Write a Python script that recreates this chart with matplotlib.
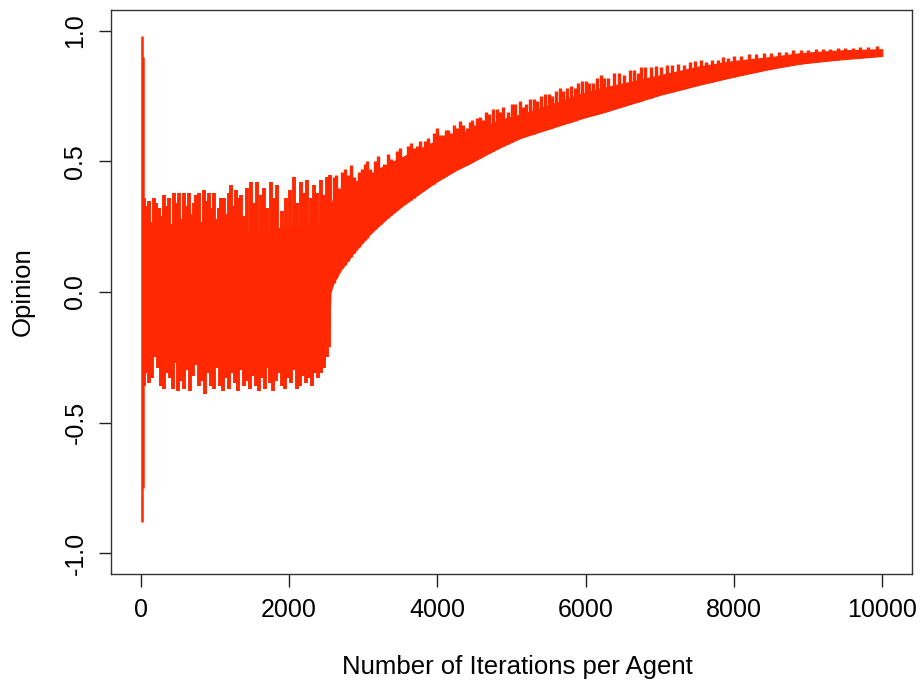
import numpy as np
import matplotlib
matplotlib.use("Agg")
import matplotlib.pyplot as plt

plt.rcParams['font.family'] = ['Liberation Sans', 'DejaVu Sans']

# ---- data ----
# initial transient spike
spike0_x = [15, 30]
spike0_top = [0.98, 0.90]
spike0_bot = [-0.88, -0.75]

# solid core band of the oscillation (iteration, lower, upper)
core_x = [40, 500, 1000, 1500, 2000, 2400, 2545, 2560, 2600, 2700, 2870, 3100, 3330, 3550, 3770,
          4000, 4220, 4450, 4680, 4850, 5120, 5500, 6000, 6200, 6600, 7000, 7550, 8000,
          8500, 8900, 9400, 10000]
core_lo = [-0.16, -0.15, -0.14, -0.15, -0.16, -0.14, -0.12, 0.00, 0.035, 0.085, 0.15, 0.225,
           0.285, 0.335, 0.38, 0.425, 0.462, 0.495, 0.53, 0.555, 0.59, 0.625, 0.67, 0.685,
           0.72, 0.755, 0.795, 0.825, 0.855, 0.875, 0.89, 0.904]
core_hi = [0.19, 0.20, 0.21, 0.23, 0.25, 0.27, 0.31, 0.33, 0.36, 0.39, 0.42, 0.45, 0.49, 0.52,
           0.55, 0.58, 0.60, 0.62, 0.64, 0.66, 0.68, 0.715, 0.765, 0.78, 0.805, 0.83, 0.865,
           0.885, 0.90, 0.915, 0.925, 0.93]

# upward excursions in the noisy phase (iteration, opinion)
up_x = [40, 75, 108, 140, 175, 210, 243, 275, 310, 345, 377, 410, 445, 480, 512, 545, 580,
        612, 647, 680, 714, 748, 782, 815, 849, 883, 917, 950, 984, 1018, 1051, 1085, 1119,
        1152, 1186, 1213, 1250, 1290, 1320, 1348, 1390, 1440, 1482, 1530, 1572, 1620, 1662,
        1710, 1752, 1800, 1842, 1900, 1954, 2010, 2066, 2110, 2156, 2200, 2246, 2290, 2336,
        2380, 2426, 2470, 2516, 2550]
up_top = [0.36, 0.33, 0.35, 0.27, 0.36, 0.34, 0.32, 0.29, 0.37, 0.33, 0.36, 0.26, 0.38, 0.34,
          0.38, 0.28, 0.38, 0.33, 0.38, 0.30, 0.34, 0.37, 0.38, 0.27, 0.39, 0.35, 0.38, 0.32,
          0.38, 0.28, 0.32, 0.36, 0.36, 0.30, 0.38, 0.41, 0.33, 0.39, 0.36, 0.37, 0.29, 0.40,
          0.42, 0.34, 0.42, 0.37, 0.40, 0.32, 0.42, 0.36, 0.41, 0.31, 0.36, 0.39, 0.44, 0.34,
          0.42, 0.38, 0.43, 0.36, 0.41, 0.38, 0.43, 0.37, 0.44, 0.45]

# downward excursions in the noisy phase
dn_x = [40, 80, 115, 150, 190, 230, 270, 310, 350, 390, 430, 470, 510, 550, 590, 630, 670,
        710, 750, 790, 830, 870, 910, 950, 990, 1030, 1070, 1110, 1150, 1190, 1230, 1270,
        1310, 1350, 1390, 1430, 1470, 1510, 1550, 1590, 1630, 1670, 1710, 1750, 1790, 1830,
        1870, 1910, 1950, 1990, 2030, 2070, 2110, 2150, 2190, 2230, 2270, 2310, 2350, 2390,
        2430, 2470, 2510, 2545]
dn_bot = [-0.36, -0.31, -0.35, -0.33, -0.25, -0.29, -0.36, -0.37, -0.31, -0.33, -0.37, -0.27,
          -0.38, -0.34, -0.37, -0.30, -0.38, -0.32, -0.28, -0.36, -0.34, -0.39, -0.31, -0.36,
          -0.37, -0.29, -0.36, -0.38, -0.33, -0.37, -0.31, -0.35, -0.38, -0.30, -0.36, -0.34,
          -0.37, -0.32, -0.36, -0.38, -0.33, -0.37, -0.29, -0.35, -0.38, -0.34, -0.31, -0.36,
          -0.37, -0.33, -0.35, -0.30, -0.37, -0.36, -0.32, -0.35, -0.33, -0.36, -0.31, -0.33,
          -0.31, -0.29, -0.25, -0.21]

# upward excursions during convergence
cv_x = [2600, 2640, 2680, 2720, 2750, 2790, 2830, 2870, 2900, 2940, 2980, 3020, 3050, 3090,
        3120, 3160, 3200, 3240, 3280, 3330, 3370, 3420, 3460, 3500, 3560, 3600, 3640, 3680,
        3720, 3760, 3800, 3840, 3880, 3920, 3950, 4000, 4040, 4080, 4120, 4150, 4190, 4230,
        4270, 4310, 4350, 4400, 4440, 4470, 4510, 4540, 4580, 4620, 4660, 4700, 4750, 4800,
        4850, 4890, 4950, 5000, 5050, 5120, 5160, 5200, 5250, 5300, 5350, 5400, 5450, 5500,
        5550, 5600, 5650, 5700, 5750, 5800, 5850, 5900, 5950, 6000, 6050, 6100, 6150, 6200,
        6250, 6300, 6380, 6450, 6520, 6600, 6650, 6700, 6750, 6800, 6880, 6950, 7020, 7100,
        7170, 7250, 7320, 7400, 7470, 7550, 7620, 7700, 7780, 7850, 7920, 8000, 8100, 8200,
        8300, 8400, 8500, 8600, 8700, 8800, 8900, 9000, 9100, 9200, 9300, 9400, 9500, 9600,
        9700, 9800, 9930]
cv_top = [0.44, 0.45, 0.40, 0.46, 0.47, 0.45, 0.485, 0.44, 0.42, 0.46, 0.47, 0.49, 0.50, 0.47,
          0.46, 0.50, 0.52, 0.48, 0.49, 0.53, 0.51, 0.50, 0.54, 0.55, 0.51, 0.56, 0.57, 0.55,
          0.56, 0.58, 0.54, 0.58, 0.59, 0.57, 0.61, 0.627, 0.60, 0.60, 0.62, 0.62, 0.61, 0.64,
          0.63, 0.654, 0.64, 0.63, 0.65, 0.66, 0.64, 0.665, 0.67, 0.66, 0.69, 0.68, 0.70,
          0.70, 0.69, 0.71, 0.69, 0.72, 0.72, 0.73, 0.71, 0.72, 0.74, 0.74, 0.73, 0.75, 0.76,
          0.76, 0.75, 0.77, 0.78, 0.77, 0.78, 0.79, 0.78, 0.80, 0.81, 0.81, 0.80, 0.80, 0.82,
          0.83, 0.82, 0.82, 0.84, 0.84, 0.83, 0.85, 0.85, 0.84, 0.86, 0.86, 0.86, 0.865, 0.86,
          0.87, 0.87, 0.875, 0.87, 0.88, 0.885, 0.888, 0.88, 0.89, 0.89, 0.90, 0.895, 0.905,
          0.905, 0.91, 0.91, 0.915, 0.915, 0.92, 0.92, 0.925, 0.927, 0.928, 0.93, 0.93, 0.932,
          0.933, 0.935, 0.936, 0.938, 0.94, 0.942]

x_ticks = [0, 2000, 4000, 6000, 8000, 10000]
y_ticks = [-1.0, -0.5, 0.0, 0.5, 1.0]
x_label = "Number of Iterations per Agent"
y_label = "Opinion"

RED = '#ff2800'

fig = plt.figure(figsize=(9.22, 6.84), dpi=100)
ax = fig.add_axes([111 / 922, 1 - 574 / 684, (912 - 111) / 922, (574 - 10) / 684])

ax.fill_between(core_x, core_lo, core_hi, color=RED, lw=0.8, edgecolor=RED)
ax.vlines(up_x, 0, up_top, color=RED, lw=2.8)
ax.vlines(dn_x, dn_bot, 0, color=RED, lw=2.8)
cv_base = np.interp(cv_x, core_x, core_lo)
ax.vlines(cv_x, cv_base, cv_top, color=RED, lw=2.4)
ax.vlines(spike0_x, spike0_bot, spike0_top, color=RED, lw=1.8)

ax.set_xlim(-400, 10400)
ax.set_ylim(-1.08, 1.08)
ax.set_xticks(x_ticks)
ax.set_xticklabels([str(v) for v in x_ticks])
ax.set_yticks(y_ticks)
ax.set_yticklabels([f"{v:.1f}" for v in y_ticks], rotation=90, va='center')
ax.tick_params(direction='out', length=9, width=1, labelsize=18, pad=8, color='#222222')
ax.tick_params(axis='y', pad=8)
for s in ax.spines.values():
    s.set_linewidth(1.0)
    s.set_color('#333333')

fig.text(517 / 922, 1 - 667 / 684, x_label, ha='center', va='center', fontsize=18.5)
fig.text(23 / 922, 1 - 292 / 684, y_label, ha='center', va='center', fontsize=18.5, rotation=90)

fig.savefig("out.png", dpi=100)
